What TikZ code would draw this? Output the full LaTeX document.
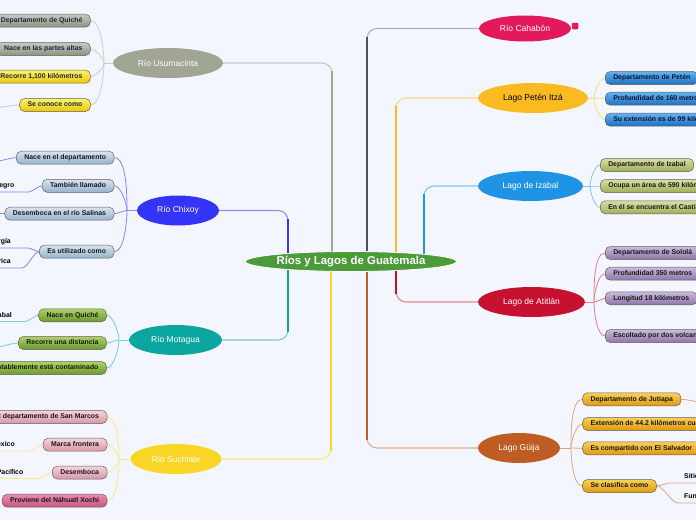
\documentclass[tikz,border=0pt]{standalone}
\usepackage{fontspec}
\setmainfont{Liberation Sans}
\usetikzlibrary{shapes.geometric,backgrounds}

\definecolor{fondo}{RGB}{243,246,254}
\definecolor{raizcol}{RGB}{76,155,58}
\definecolor{usucol}{RGB}{160,165,148}
\definecolor{chxcol}{RGB}{52,52,250}
\definecolor{motcol}{RGB}{12,166,160}
\definecolor{succol}{RGB}{249,213,38}
\definecolor{cahcol}{RGB}{226,26,92}
\definecolor{cahlin}{RGB}{80,82,90}
\definecolor{petcol}{RGB}{251,186,32}
\definecolor{izacol}{RGB}{32,148,228}
\definecolor{aticol}{RGB}{198,18,48}
\definecolor{guicol}{RGB}{190,92,36}

\tikzset{
  raiz/.style={ellipse, fill=raizcol, draw=white, line width=0.8pt, text=white, inner sep=0pt,
    minimum width=211pt, minimum height=20pt, font=\fontsize{11.4}{13}\selectfont\bfseries},
  tema/.style={ellipse, fill=#1, text=white, inner sep=0pt, minimum height=30pt,
    font=\fontsize{8.5}{10}\selectfont},
  hoja/.style={rectangle, rounded corners=5pt, draw=black!62, line width=0.5pt,
    minimum height=13pt, inner xsep=8pt, inner ysep=0pt, text height=5.1pt, text depth=1.5pt,
    text=black!90, font=\fontsize{6.9}{8}\selectfont\bfseries},
  usugris/.style={hoja, top color={rgb,255:red,200;green,203;blue,188}, bottom color={rgb,255:red,140;green,145;blue,128}, text={rgb,255:red,28;green,40;blue,72}},
  usuamar/.style={hoja, top color={rgb,255:red,255;green,242;blue,100}, bottom color={rgb,255:red,232;green,200;blue,10}, text={rgb,255:red,28;green,40;blue,72}},
  chxhoja/.style={hoja, top color={rgb,255:red,215;green,228;blue,240}, bottom color={rgb,255:red,150;green,178;blue,202}},
  mothoja/.style={hoja, top color={rgb,255:red,172;green,210;blue,100}, bottom color={rgb,255:red,108;green,152;blue,48}},
  suchoja/.style={hoja, top color={rgb,255:red,246;green,212;blue,220}, bottom color={rgb,255:red,216;green,150;blue,166}},
  sucrosa/.style={hoja, top color={rgb,255:red,232;green,140;blue,176}, bottom color={rgb,255:red,200;green,84;blue,126}},
  pethoja/.style={hoja, top color={rgb,255:red,100;green,178;blue,240}, bottom color={rgb,255:red,30;green,112;blue,190}, text={rgb,255:red,10;green,20;blue,50}},
  izahoja/.style={hoja, top color={rgb,255:red,216;green,222;blue,162}, bottom color={rgb,255:red,162;green,174;blue,92}},
  atihoja/.style={hoja, top color={rgb,255:red,202;green,186;blue,220}, bottom color={rgb,255:red,142;green,118;blue,168}},
  guihoja/.style={hoja, top color={rgb,255:red,250;green,208;blue,84}, bottom color={rgb,255:red,222;green,152;blue,18}},
  sub/.style={inner xsep=0pt, inner ysep=2.5pt, text height=5.1pt, text depth=1.5pt,
    font=\fontsize{6.9}{8}\selectfont\bfseries},
  tronco/.style={rounded corners=10pt, line width=1.1pt},
  troncov/.style={line width=1.8pt, shorten >=8pt},
  rama/.style={line width=0.8pt, looseness=0.6},
}

\begin{document}
\begin{tikzpicture}[x=1pt,y=-1pt]
\useasboundingbox (0,0) rectangle (696,520);
\begin{pgfonlayer}{background}
\fill[fondo] (0,0) rectangle (696,520);
\end{pgfonlayer}

% centro
\node[raiz] (raiz) at (351,261.5) {Ríos y Lagos de Guatemala};

% ramas
\node[tema=usucol, minimum width=110pt] (usu) at (168,63) {Río Usumacinta};
\node[tema=chxcol, minimum width=82pt] (chx) at (178,210.5) {Río Chixoy};
\node[tema=motcol, minimum width=93pt] (mot) at (175.5,340) {Río Motagua};
\node[tema=succol, minimum width=91pt] (suc) at (176,459) {Río Suchiate};
\node[tema=cahcol, minimum width=92pt, minimum height=26pt] (cah) at (525,28.5) {Río Cahabón};
\node[fill=cahcol, rounded corners=1pt, minimum size=6.5pt, inner sep=0pt] (cahnota) at (575,26) {};
\node[tema=petcol, text=black, minimum width=110pt] (pet) at (533,98) {Lago Petén Itzá};
\node[tema=izacol, minimum width=105pt] (iza) at (530.5,186) {Lago de Izabal};
\node[tema=aticol, minimum width=107pt] (ati) at (531.5,302) {Lago de Atitlàn};
\node[tema=guicol, minimum width=82pt] (gui) at (519,448) {Lago Güija};

% Usumacinta
\node[usugris, anchor=east] (usu1) at (90.7,20.7) {Departamento de Quiché};
\node[usugris, anchor=east] (usu2) at (90.7,49) {Nace en las partes altas};
\node[usuamar, anchor=east] (usu3) at (90.7,76.7) {Recorre 1,100 kilómetros};
\node[usuamar, anchor=east] (usu4) at (90.7,105) {Se conoce como};
\coordinate (usuhub) at (104,63);
\coordinate (usu4fin) at (-12,108.5);

% Chixoy
\node[chxhoja, anchor=east] (chx1) at (114.3,157.7) {Nace en el departamento};
\node[chxhoja, anchor=east] (chx2) at (114.3,185.8) {También llamado};
\node[chxhoja, anchor=east] (chx3) at (114.3,213.7) {Desemboca en el río Salinas};
\node[chxhoja, anchor=east] (chx4) at (114.3,251.7) {Es utilizado como};
\node[sub, anchor=south east] (neg) at (14.5,192) {Río Negro};
\node[sub, anchor=south east] (ene) at (11,248) {energía};
\node[sub, anchor=south east] (ele) at (11,268) {eléctrica};
\coordinate (chxhub) at (127,210.5);
\coordinate (chx1fin) at (-12,163);
\coordinate (chx3fin) at (-12,213.7);

% Motagua
\node[mothoja, anchor=east] (mot1) at (106.7,315.3) {Nace en Quiché};
\node[mothoja, anchor=east] (mot2) at (106.7,343) {Recorre una distancia};
\node[mothoja, anchor=east] (mot3) at (106.7,368) {Lamentablemente está contaminado};
\node[sub, anchor=south east] (izb) at (12,321.5) {Desemboca en Izabal};
\coordinate (mothub) at (119,340);
\coordinate (mot2fin) at (-12,349);

% Suchiate
\node[suchoja, anchor=east] (suc1) at (107.3,417) {Nace en el departamento de San Marcos};
\node[suchoja, anchor=east] (suc2) at (107.3,444.7) {Marca frontera};
\node[suchoja, anchor=east] (suc3) at (107.3,472.5) {Desemboca};
\node[sucrosa, anchor=east] (suc4) at (107.3,500.7) {Proviene del Náhuatl Xochi};
\node[sub, anchor=south east] (mex) at (15,451) {México};
\node[sub, anchor=south east] (pac) at (23.5,478.5) {Océano Pacífico};
\coordinate (suchub) at (119,459);
\coordinate (suc4fin) at (-12,501);

% Peten Itza
\node[pethoja, anchor=west] (pet1) at (605,78) {Departamento de Petén};
\node[pethoja, anchor=west] (pet2) at (605,98.7) {Profundidad de 160 metros};
\node[pethoja, anchor=west] (pet3) at (605,119.7) {Su extensión es de 99 kilómetros cuadrados};
\coordinate (pethub) at (594,98);

% Izabal
\node[izahoja, anchor=west] (iza1) at (600,165) {Departamento de Izabal};
\node[izahoja, anchor=west] (iza2) at (600,186) {Ocupa un área de 590 kilómetros cuadrados};
\node[izahoja, anchor=west] (iza3) at (600,207.3) {En él se encuentra el Castillo de San Felipe};
\coordinate (izahub) at (590,186);

% Atitlan
\node[atihoja, anchor=west] (ati1) at (605,253) {Departamento de Sololá};
\node[atihoja, anchor=west] (ati2) at (605,273.7) {Profundidad 350 metros};
\node[atihoja, anchor=west] (ati3) at (605,298.3) {Longitud 18 kilómetros};
\node[atihoja, anchor=west] (ati4) at (605,336) {Escoltado por dos volcanes};
\coordinate (atihub) at (594,302);

% Guija
\node[guihoja, anchor=west] (gui1) at (582.3,399.3) {Departamento de Jutiapa};
\node[guihoja, anchor=west] (gui2) at (582.3,424) {Extensión de 44.2 kilómetros cuadrados};
\node[guihoja, anchor=west] (gui3) at (582.3,448.3) {Es compartido con El Salvador};
\node[guihoja, anchor=west] (gui4) at (582.3,486) {Se clasifica como};
\node[sub, anchor=south west] (sit) at (684,483) {Sitio Ramsar};
\node[sub, anchor=south west] (fun) at (684,503) {Funcional};
\coordinate (guihub) at (571,448);
\coordinate (gui1fin) at (712,404);

\begin{pgfonlayer}{background}
% troncos
\draw[tronco, usucol!60] ([xshift=-19pt]raiz.center) |- (usu.east);
\draw[tronco, cahlin!45] ([xshift=16pt]raiz.center) |- (cah.west);
\draw[tronco, petcol!55] ([xshift=45pt]raiz.center) |- (pet.west);
\draw[tronco, izacol!55] ([xshift=73pt]raiz.center) |- (iza.west);
\draw[tronco, chxcol!55] ([xshift=-63pt]raiz.center) |- (chx.east);
\draw[tronco, motcol!55] ([xshift=-63pt]raiz.center) |- (mot.east);
\draw[tronco, succol!55] ([xshift=-20pt]raiz.center) |- (suc.east);
\draw[tronco, guicol!50] ([xshift=16pt]raiz.center) |- (gui.west);
\draw[tronco, aticol!50] ([xshift=45pt]raiz.center) |- (ati.west);
\draw[troncov, usucol] ([xshift=-19pt]raiz.center) -- ([xshift=-19pt]raiz.center |- usu.east);
\draw[troncov, cahlin] ([xshift=16pt]raiz.center) -- ([xshift=16pt]raiz.center |- cah.west);
\draw[troncov, petcol] ([xshift=45pt]raiz.center) -- ([xshift=45pt]raiz.center |- pet.west);
\draw[troncov, izacol] ([xshift=73pt]raiz.center) -- ([xshift=73pt]raiz.center |- iza.west);
\draw[troncov, chxcol] ([xshift=-63pt]raiz.center) -- ([xshift=-63pt]raiz.center |- chx.east);
\draw[troncov, motcol] ([xshift=-63pt]raiz.center) -- ([xshift=-63pt]raiz.center |- mot.east);
\draw[troncov, succol] ([xshift=-20pt]raiz.center) -- ([xshift=-20pt]raiz.center |- suc.east);
\draw[troncov, guicol] ([xshift=16pt]raiz.center) -- ([xshift=16pt]raiz.center |- gui.west);
\draw[troncov, aticol] ([xshift=45pt]raiz.center) -- ([xshift=45pt]raiz.center |- ati.west);

% Usumacinta
\draw[rama, usucol!55] (usu.west) -- (usuhub);
\draw[rama, usucol!55] (usuhub) to[out=90,in=0] (usu1.east);
\draw[rama, usucol!55] (usuhub) to[out=90,in=0] (usu2.east);
\draw[rama, usucol!55] (usuhub) to[out=-90,in=0] (usu3.east);
\draw[rama, usucol!55] (usuhub) to[out=-90,in=0] (usu4.east);
\draw[rama, usucol!55] (usu4.west) to[out=180,in=0] (usu4fin);

% Chixoy
\draw[rama, chxcol!60] (chx.west) -- (chxhub);
\draw[rama, chxcol!60] (chxhub) to[out=90,in=0] (chx1.east);
\draw[rama, chxcol!60] (chxhub) to[out=90,in=0] (chx2.east);
\draw[rama, chxcol!60] (chxhub) to[out=180,in=0] (chx3.east);
\draw[rama, chxcol!60] (chxhub) to[out=-90,in=0] (chx4.east);
\draw[rama, chxcol!60] (chx1.west) to[out=180,in=0] (chx1fin);
\draw[rama, chxcol!60] (chx2.west) to[out=180,in=0] ([xshift=14pt]neg.south east) -- (neg.south west);
\draw[rama, chxcol!60] (chx3.west) -- (chx3fin);
\draw[rama, chxcol!60] (chx4.west) to[out=180,in=0] ([xshift=17pt]ene.south east) -- (ene.south west);
\draw[rama, chxcol!60] (chx4.west) to[out=180,in=0] ([xshift=11pt]ele.south east) -- (ele.south west);

% Motagua
\draw[rama, motcol!55] (mot.west) -- (mothub);
\draw[rama, motcol!55] (mothub) to[out=90,in=0] (mot1.east);
\draw[rama, motcol!55] (mothub) to[out=180,in=0] (mot2.east);
\draw[rama, motcol!55] (mothub) to[out=-90,in=0] (mot3.east);
\draw[rama, motcol!55] (mot1.west) to[out=180,in=0] ([xshift=13pt]izb.south east) -- (izb.south west);
\draw[rama, motcol!55] (mot2.west) to[out=180,in=0] (mot2fin);

% Suchiate
\draw[rama, succol!55] (suc.west) -- (suchub);
\draw[rama, succol!55] (suchub) to[out=90,in=0] (suc1.east);
\draw[rama, succol!55] (suchub) to[out=90,in=0] (suc2.east);
\draw[rama, succol!55] (suchub) to[out=-90,in=0] (suc3.east);
\draw[rama, succol!55] (suchub) to[out=-90,in=0] (suc4.east);
\draw[rama, succol!55] (suc2.west) to[out=180,in=0] ([xshift=15pt]mex.south east) -- (mex.south west);
\draw[rama, succol!55] (suc3.west) to[out=180,in=0] ([xshift=15pt]pac.south east) -- (pac.south west);
\draw[rama, succol!55] (suc4.west) to[out=180,in=0] (suc4fin);

% Peten Itza
\draw[rama, petcol!55] (pet.east) -- (pethub);
\draw[rama, petcol!55] (pethub) to[out=90,in=180] (pet1.west);
\draw[rama, petcol!55] (pethub) to[out=0,in=180] (pet2.west);
\draw[rama, petcol!55] (pethub) to[out=-90,in=180] (pet3.west);

% Izabal
\draw[rama, izacol!55] (iza.east) -- (izahub);
\draw[rama, izacol!55] (izahub) to[out=90,in=180] (iza1.west);
\draw[rama, izacol!55] (izahub) to[out=0,in=180] (iza2.west);
\draw[rama, izacol!55] (izahub) to[out=-90,in=180] (iza3.west);

% Atitlan
\draw[rama, aticol!55] (ati.east) -- (atihub);
\draw[rama, aticol!55] (atihub) to[out=90,in=180] (ati1.west);
\draw[rama, aticol!55] (atihub) to[out=90,in=180] (ati2.west);
\draw[rama, aticol!55] (atihub) to[out=0,in=180] (ati3.west);
\draw[rama, aticol!55] (atihub) to[out=-90,in=180] (ati4.west);

% Guija
\draw[rama, guicol!55] (gui.east) -- (guihub);
\draw[rama, guicol!55] (guihub) to[out=90,in=180] (gui1.west);
\draw[rama, guicol!55] (guihub) to[out=90,in=180] (gui2.west);
\draw[rama, guicol!55] (guihub) to[out=0,in=180] (gui3.west);
\draw[rama, guicol!55] (guihub) to[out=-90,in=180] (gui4.west);
\draw[rama, guicol!55] (gui1.east) to[out=0,in=180] (gui1fin);
\draw[rama, guicol!55] (gui4.east) to[out=0,in=180] ([xshift=-14pt]sit.south west) -- (sit.south east);
\draw[rama, guicol!55] (gui4.east) to[out=0,in=180] ([xshift=-6pt]fun.south west) -- (fun.south east);
\end{pgfonlayer}
\end{tikzpicture}
\end{document}
